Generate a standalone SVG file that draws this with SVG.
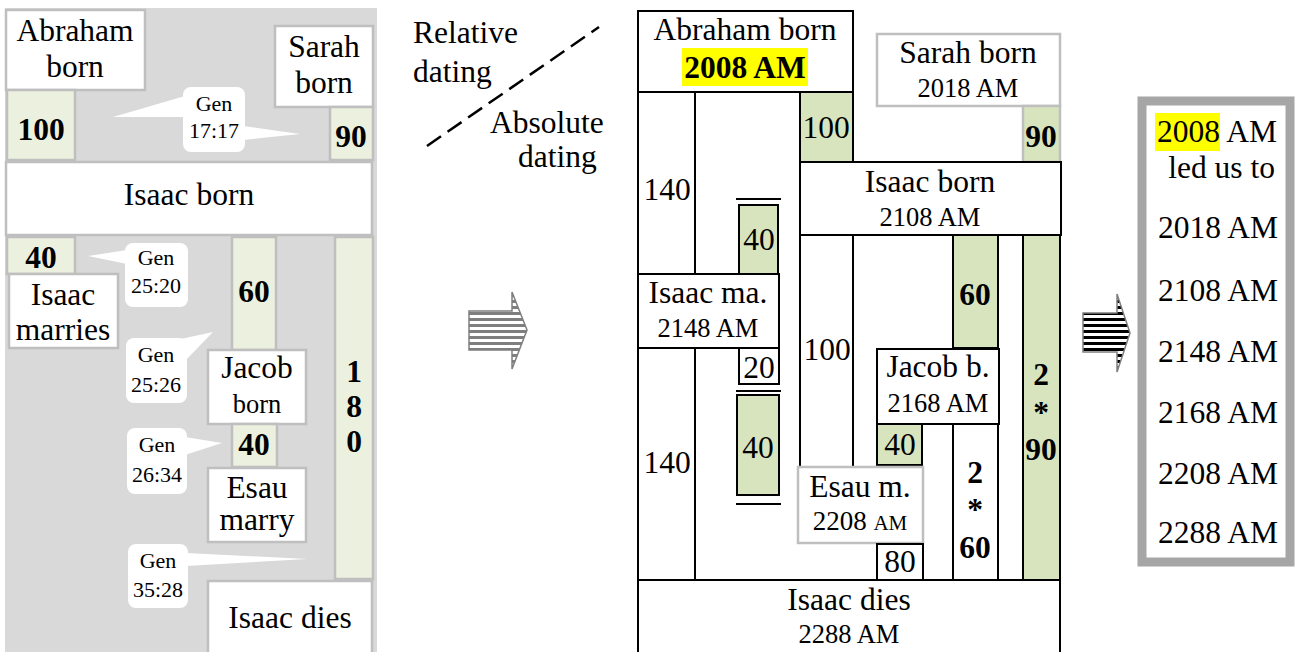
<svg xmlns="http://www.w3.org/2000/svg" width="1295" height="652" viewBox="0 0 1295 652">
<style>
text{font-family:"Liberation Serif","Times New Roman",serif;fill:#000;text-anchor:middle}
.L{font-size:31.5px}
.S{font-size:26.5px}
.C{font-size:22px}
.B{font-weight:bold}
.lb{fill:#fff;stroke:#bfbfbf;stroke-width:2.5}
.lg{fill:#ebf1de;stroke:#bfbfbf;stroke-width:2.5}
.mb{fill:#fff;stroke:#000;stroke-width:2}
.mg{fill:#d7e4bd;stroke:#000;stroke-width:2}
.mgg{fill:#d7e4bd;stroke:#bfbfbf;stroke-width:2.5}
.mw{fill:#fff;stroke:#bfbfbf;stroke-width:2.5}
.call{fill:#fff;stroke:none}
.ln{stroke:#000;stroke-width:2}
</style>
<defs>
<pattern id="stG" width="10" height="6" patternUnits="userSpaceOnUse"><rect width="10" height="6" fill="#fff"/><rect width="10" height="3" fill="#7f7f7f"/></pattern>
<pattern id="stK" width="10" height="6" patternUnits="userSpaceOnUse"><rect width="10" height="6" fill="#fff"/><rect width="10" height="3" fill="#000"/></pattern>
</defs>
<rect width="1295" height="652" fill="#fff"/>

<!-- LEFT PANEL -->
<rect id="left-bg" x="5" y="8" width="372" height="650" fill="#d9d9d9"/>
<g id="l-abraham"><rect class="lb" x="6" y="10" width="139" height="80"/><text class="L" x="75" y="41">Abraham</text><text class="L" x="75" y="77">born</text></g>
<g id="l-100"><rect class="lg" x="7" y="90" width="68" height="70"/><text class="L B" x="41" y="140">100</text></g>
<g id="l-sarah"><rect class="lb" x="275" y="26" width="98" height="81"/><text class="L" x="324" y="57">Sarah</text><text class="L" x="324" y="93">born</text></g>
<g id="l-90"><rect class="lg" x="330" y="107" width="43" height="53"/><text class="L B" x="351" y="147">90</text></g>
<g id="l-isaacborn"><rect class="lb" x="6" y="162" width="366" height="73"/><text class="L" x="189" y="205">Isaac born</text></g>
<g id="l-40a"><rect class="lg" x="7" y="237" width="68" height="37"/><text class="L B" x="41" y="268">40</text></g>
<g id="l-isaacmarries"><rect class="lb" x="9" y="274" width="109" height="74"/><text class="L" x="63" y="305">Isaac</text><text class="L" x="63" y="340">marries</text></g>
<g id="l-60"><rect class="lg" x="232" y="237" width="44" height="113"/><text class="L B" x="254" y="302">60</text></g>
<g id="l-180"><rect class="lg" x="335" y="237" width="38" height="342"/><text class="L B" x="354" y="382">1</text><text class="L B" x="354" y="417">8</text><text class="L B" x="354" y="452">0</text></g>
<g id="l-jacob"><rect class="lb" x="208" y="350" width="98" height="74"/><text class="L" x="257" y="378">Jacob</text><text class="S" x="257" y="413">born</text></g>
<g id="l-40b"><rect class="lg" x="232" y="424" width="45" height="43"/><text class="L B" x="254" y="455">40</text></g>
<g id="l-esau"><rect class="lb" x="208" y="468" width="98" height="74"/><text class="L" x="257" y="498">Esau</text><text class="L" x="257" y="530">marry</text></g>
<g id="l-isaacdies"><rect class="lb" x="208" y="581" width="164" height="80"/><text class="L" x="290" y="628">Isaac dies</text></g>

<g id="callout-1717"><polygon class="call" points="185,96 113,117 185,117"/><polygon class="call" points="243,126 300,134 243,140"/><rect class="call" x="183" y="87" width="62" height="65" rx="8"/><text class="C" x="214" y="111">Gen</text><text class="C" x="214" y="138">17:17</text></g>
<g id="callout-2520"><polygon class="call" points="127,250 88,256 127,264"/><rect class="call" x="125" y="243" width="63" height="64" rx="8"/><text class="C" x="156" y="265">Gen</text><text class="C" x="156" y="293">25:20</text></g>
<g id="callout-2526"><polygon class="call" points="176,340 213,332 186,360"/><rect class="call" x="126" y="338" width="61" height="65" rx="8"/><text class="C" x="156" y="362">Gen</text><text class="C" x="156" y="392">25:26</text></g>
<g id="callout-2634"><polygon class="call" points="185,437 222,443 185,455"/><rect class="call" x="127" y="428" width="60" height="66" rx="8"/><text class="C" x="157" y="452">Gen</text><text class="C" x="157" y="482">26:34</text></g>
<g id="callout-3528"><polygon class="call" points="186,553 307,559 186,566"/><rect class="call" x="128" y="544" width="60" height="64" rx="8"/><text class="C" x="158" y="568">Gen</text><text class="C" x="158" y="597">35:28</text></g>

<!-- DIVIDER LABELS -->
<g id="dating-labels">
<text class="L" x="413" y="43" style="text-anchor:start">Relative</text>
<text class="L" x="413" y="82" style="text-anchor:start">dating</text>
<text class="L" x="490" y="133" style="text-anchor:start">Absolute</text>
<text class="L" x="518" y="167" style="text-anchor:start">dating</text>
<line x1="427" y1="146" x2="599" y2="27" stroke="#000" stroke-width="2.5" stroke-dasharray="17 8"/>
</g>

<!-- ARROWS -->
<g id="connectors">
<path d="M469,311 L512,311 L512,292 L527,330 L512,369 L512,350 L469,350 Z" fill="url(#stG)" stroke="#7f7f7f" stroke-width="1.5"/>
<path d="M1083,313 L1117,313 L1117,294 L1130,333 L1117,372 L1117,352 L1083,352 Z" fill="url(#stK)" stroke="#7f7f7f" stroke-width="1.5"/>
</g>

<!-- MIDDLE PANEL -->
<g id="m-140a"><rect class="mb" x="638" y="92" width="57" height="182"/><text class="L" x="667" y="200">140</text></g>
<g id="m-140b"><rect class="mb" x="638" y="348" width="57" height="232"/><text class="L" x="667" y="473">140</text></g>
<g id="m-100col"><rect class="mb" x="800" y="235" width="53" height="240"/><text class="L" x="827" y="360">100</text></g>
<g id="m-40a"><line class="ln" x1="736" y1="199" x2="781" y2="199"/><rect class="mg" x="739" y="205" width="39" height="69"/><text class="L" x="759" y="250">40</text></g>
<g id="m-20"><rect class="mb" x="739" y="348" width="40" height="36"/><text class="L" x="759" y="378">20</text></g>
<g id="m-40b"><line class="ln" x1="736" y1="391" x2="781" y2="391"/><rect class="mg" x="737" y="395" width="42" height="100"/><line class="ln" x1="736" y1="504" x2="781" y2="504"/><text class="L" x="758" y="458">40</text></g>
<g id="m-abraham"><rect class="mb" x="638" y="11" width="215" height="81"/><text class="L" x="745" y="40">Abraham born</text><rect x="682" y="48" width="126" height="38" fill="#ffff00"/><text class="L B" x="745" y="78">2008 AM</text></g>
<g id="m-100"><rect class="mg" x="800" y="92" width="53" height="70"/><text class="L" x="826" y="138">100</text></g>
<g id="m-sarah"><rect class="mw" x="877" y="34" width="183" height="72"/><text class="L" x="968" y="63">Sarah born</text><text class="S" x="968" y="97">2018 AM</text></g>
<g id="m-90"><rect class="mgg" x="1023" y="106" width="37" height="56"/><text class="L B" x="1041" y="147">90</text></g>
<g id="m-isaacborn"><rect class="mb" x="800" y="162" width="261" height="73"/><text class="L" x="930" y="192">Isaac born</text><text class="S" x="930" y="226">2108 AM</text></g>
<g id="m-60"><rect class="mg" x="953" y="235" width="45" height="113"/><text class="L B" x="975" y="305">60</text></g>
<g id="m-2x90"><rect class="mg" x="1023" y="235" width="37" height="345"/><text class="L B" x="1041" y="385">2</text><text class="L B" x="1041" y="423">*</text><text class="L B" x="1041" y="460">90</text></g>
<g id="m-2x60"><rect class="mb" x="953" y="424" width="45" height="156"/><text class="L B" x="975" y="483">2</text><text class="L B" x="975" y="520">*</text><text class="L B" x="975" y="558">60</text></g>
<g id="m-isaacma"><rect class="mb" x="638" y="274" width="141" height="74"/><text class="L" x="708" y="303">Isaac ma.</text><text class="S" x="708" y="337">2148 AM</text></g>
<g id="m-jacob"><rect class="mb" x="877" y="349" width="122" height="75"/><text class="L" x="938" y="377">Jacob b.</text><text class="S" x="938" y="412">2168 AM</text></g>
<g id="m-40c"><rect class="mg" x="877" y="424" width="45" height="41"/><text class="L" x="900" y="455">40</text></g>
<g id="m-esau"><rect class="mw" x="798" y="467" width="125" height="76"/><text class="L" x="860" y="497">Esau m.</text><text x="860" y="530"><tspan style="font-size:27px">2208 </tspan><tspan style="font-size:21px">AM</tspan></text></g>
<g id="m-80"><rect class="mb" x="877" y="544" width="46" height="36"/><text class="L" x="900" y="572">80</text></g>
<g id="m-isaacdies"><rect class="mb" x="638" y="580" width="422" height="80"/><text class="L" x="849" y="610">Isaac dies</text><text class="S" x="849" y="643">2288 AM</text></g>

<!-- RIGHT PANEL -->
<g id="r-list">
<rect x="1142" y="101" width="148" height="461" fill="#fff" stroke="#a6a6a6" stroke-width="9"/>
<rect x="1155" y="113" width="65" height="38" fill="#ffff00"/>
<text class="L" x="1277" y="142" style="text-anchor:end">2008 AM</text>
<text class="L" x="1275" y="178" style="text-anchor:end">led us to</text>
<text class="L" x="1278" y="238" style="text-anchor:end">2018 AM</text>
<text class="L" x="1278" y="301" style="text-anchor:end">2108 AM</text>
<text class="L" x="1278" y="362" style="text-anchor:end">2148 AM</text>
<text class="L" x="1278" y="423" style="text-anchor:end">2168 AM</text>
<text class="L" x="1278" y="484" style="text-anchor:end">2208 AM</text>
<text class="L" x="1278" y="543" style="text-anchor:end">2288 AM</text>
</g>
</svg>
